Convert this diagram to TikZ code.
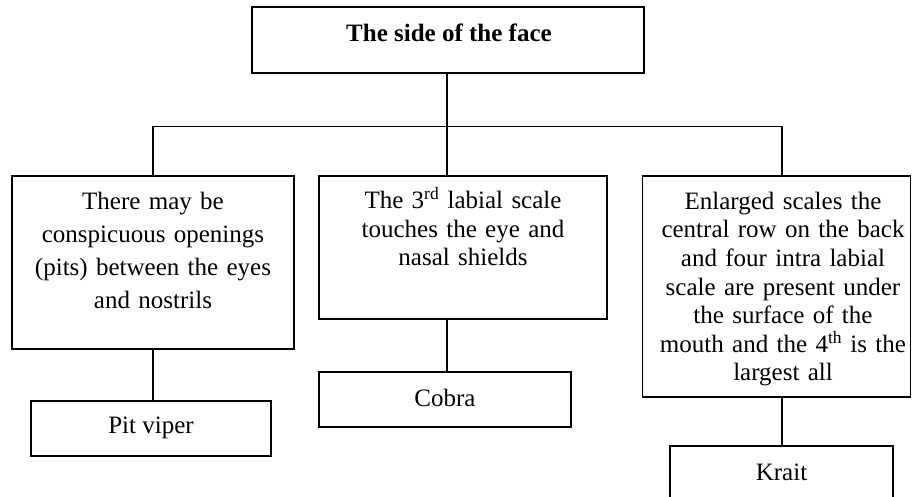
\documentclass[tikz,border=0pt]{standalone}
\usepackage{fontspec}
\setmainfont{Liberation Serif}
\begin{document}
\begin{tikzpicture}[x=1pt,y=-1pt,
  box/.style={draw=black, line width=1.3pt, inner sep=0pt, outer sep=0pt, rectangle},
  link/.style={draw=black, line width=1.2pt},
  txt/.style={inner sep=0pt, outer sep=0pt, align=center, anchor=base},
  bodyA/.style={font=\fontsize{25}{33}\selectfont},
  bodyB/.style={font=\fontsize{25}{28.6}\selectfont}]
\useasboundingbox (0,0) rectangle (912,497);
\clip (0,0) rectangle (912,497);
\fill[white] (0,0) rectangle (912,497);

% boxes
\node[box, minimum width=392pt, minimum height=66pt] (top) at (448,40) {};
\node[box, minimum width=282pt, minimum height=173pt] (A) at (153,262.5) {};
\node[box, minimum width=288pt, minimum height=143pt] (B) at (463,247.5) {};
\node[box, minimum width=268pt, minimum height=221pt] (C) at (776.75,286.5) {};
\node[box, minimum width=240pt, minimum height=55pt] (pit) at (151,428.5) {};
\node[box, minimum width=252pt, minimum height=55pt] (cobra) at (445,399.5) {};
\node[box, minimum width=223pt, minimum height=70pt] (krait) at (781.5,481) {};

% texts
\node[txt, font=\fontsize{25}{30}\selectfont\bfseries] (ttop) at (449,41.7) {The side of the face};
\node[txt, bodyA, text width=282pt] (tA) at (153,209.3) {There may be\\conspicuous openings\\(pits) between the eyes\\and nostrils};
\node[txt, bodyB, text width=288pt] (tB) at (463,208.6) {The 3\textsuperscript{rd} labial scale\\touches the eye and\\nasal shields};
\node[txt, bodyB, text width=280pt] (tC) at (783,209.3) {Enlarged scales the\\central row on the back\\and four intra labial\\scale are present under\\the surface of the\\mouth and the 4\textsuperscript{th} is the\\largest all};
\node[txt, font=\fontsize{25}{30}\selectfont] (tpit) at (151,433) {Pit viper};
\node[txt, font=\fontsize{25}{30}\selectfont] (tcobra) at (445,406) {Cobra};
\node[txt, font=\fontsize{25}{30}\selectfont] (tkrait) at (781.5,480) {Krait};

% bus
\coordinate (bus) at (447,126.5);
\coordinate (busL) at (A.north |- bus);
\coordinate (busR) at (782,126.5);
\draw[link] (bus |- top.south) -- (bus);
\draw[link] (busL) -- (busR);
\draw[link] (busL) -- (A.north);
\draw[link] (bus) -- (bus |- B.north);
\draw[link] (busR) -- (busR |- C.north);
% lower links
\draw[link] (A.south) -- (A.south |- pit.north);
\draw[link] (cobra.north -| bus) -- (bus |- B.south);
\draw[link] (krait.north -| busR) -- (busR |- C.south);
\end{tikzpicture}
\end{document}
